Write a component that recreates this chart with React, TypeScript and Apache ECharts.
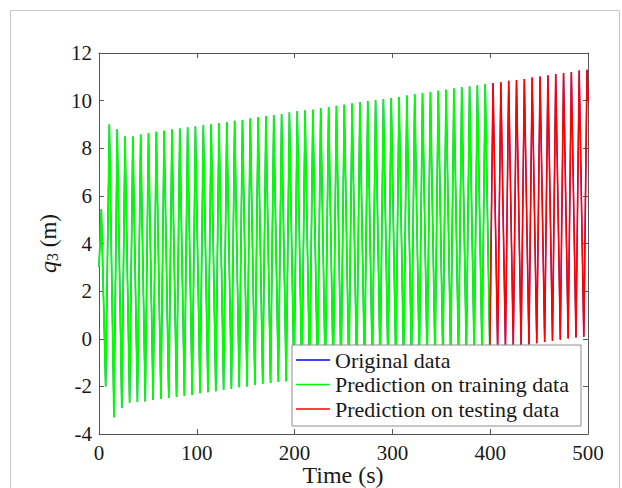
import React, { useEffect, useRef } from "react";
import * as echarts from "echarts";

// ---- data ----
const startPoint: [number, number] = [0, 3.0];
const firstPeak: [number, number] = [2.4, 5.44];
const firstTrough: [number, number] = [6.8, -2.0];
const endPoint: [number, number] = [500, 10.0];

const peakTimes = [
  10.6, 18.6, 26.6, 34.6, 42.6, 50.6, 58.6, 66.6, 74.6, 82.6,
  90.6, 98.6, 106.7, 114.7, 122.7, 130.7, 138.7, 146.7, 154.7, 162.7,
  170.7, 178.7, 186.7, 194.7, 202.7, 210.7, 218.7, 226.7, 234.8, 242.8,
  250.8, 258.8, 266.8, 274.8, 282.8, 290.8, 298.8, 306.8, 314.8, 322.8,
  330.8, 338.9, 346.9, 354.9, 362.9, 370.9, 378.9, 386.9, 394.9, 402.9,
  410.9, 418.9, 426.9, 434.9, 442.9, 451.0, 459.0, 467.0, 475.0, 483.0,
  491.0, 499.0,
];
const peakValues = [
  9.0, 8.79, 8.49, 8.49, 8.58, 8.63, 8.69, 8.73, 8.79, 8.83,
  8.87, 8.91, 8.97, 9.01, 9.05, 9.09, 9.15, 9.19, 9.25, 9.3,
  9.34, 9.39, 9.43, 9.5, 9.55, 9.58, 9.62, 9.68, 9.73, 9.78,
  9.83, 9.88, 9.93, 9.97, 10.02, 10.07, 10.11, 10.15, 10.21, 10.27,
  10.31, 10.35, 10.41, 10.46, 10.51, 10.56, 10.59, 10.64, 10.7, 10.74,
  10.77, 10.83, 10.87, 10.91, 10.97, 11.01, 11.06, 11.12, 11.16, 11.2,
  11.26, 11.3,
];
const troughTimes = [
  15.3, 23.3, 31.3, 39.3, 47.3, 55.3, 63.3, 71.3, 79.3, 87.3,
  95.3, 103.3, 111.4, 119.4, 127.4, 135.4, 143.4, 151.4, 159.4, 167.4,
  175.4, 183.4, 191.4, 199.4, 207.4, 215.4, 223.4, 231.4, 239.5, 247.5,
  255.5, 263.5, 271.5, 279.5, 287.5, 295.5, 303.5, 311.5, 319.5, 327.5,
  335.5, 343.6, 351.6, 359.6, 367.6, 375.6, 383.6, 391.6, 399.6, 407.6,
  415.6, 423.6, 431.6, 439.6, 447.6, 455.7, 463.7, 471.7, 479.7, 487.7,
  495.7,
];
const troughValues = [
  -3.3, -2.91, -2.69, -2.66, -2.63, -2.57, -2.53, -2.48, -2.44, -2.39,
  -2.35, -2.29, -2.25, -2.2, -2.15, -2.1, -2.04, -2.0, -1.94, -1.9,
  -1.86, -1.82, -1.78, -1.73, -1.68, -1.63, -1.58, -1.54, -1.49, -1.44,
  -1.39, -1.34, -1.29, -1.24, -1.19, -1.14, -1.09, -1.04, -0.99, -0.94,
  -0.89, -0.84, -0.79, -0.74, -0.69, -0.64, -0.59, -0.54, -0.49, -0.44,
  -0.39, -0.34, -0.29, -0.24, -0.19, -0.14, -0.09, -0.04, 0.01, 0.05,
  0.08,
];
const splitTime = 399.6; // end of training / start of testing

const xTicks = { min: 0, max: 500, interval: 100 };
const yTicks = { min: -4, max: 12, interval: 2 };
const xAxisTitle = "Time (s)";

const seriesNames = [
  "Original data",
  "Prediction on training data",
  "Prediction on testing data",
];
const seriesColors = ["#0000ff", "#00ff00", "#ff0000"];

// ---- build the full signal from the read extrema ----
function buildSignal(): [number, number][] {
  const pts: [number, number][] = [startPoint, firstPeak, firstTrough];
  for (let k = 0; k < peakTimes.length; k++) {
    pts.push([peakTimes[k], peakValues[k]]);
    if (k < troughTimes.length) pts.push([troughTimes[k], troughValues[k]]);
  }
  pts.push(endPoint);
  return pts;
}

const FONT = "'Liberation Serif', 'DejaVu Serif', serif";
const AXIS_COLOR = "#555555";
const TEXT_COLOR = "#1a1a1a";

export default function App() {
  const ref = useRef<HTMLDivElement>(null);
  useEffect(() => {
    if (!ref.current) return;
    const chart = echarts.init(ref.current, undefined, { renderer: "svg" });
    const all = buildSignal();
    const train = all.filter((p) => p[0] <= splitTime);
    const test = all.filter((p) => p[0] >= splitTime);

    const axisCommon = {
      axisLine: { show: true, onZero: false, lineStyle: { color: AXIS_COLOR, width: 1 } },
      axisTick: { show: true, inside: true, length: 5, lineStyle: { color: AXIS_COLOR } },
      splitLine: { show: false },
    };

    chart.setOption({
      animation: false,
      backgroundColor: "#ffffff",
      grid: {
        left: 99,
        top: 53,
        width: 489,
        height: 381,
        containLabel: false,
        outerBoundsMode: "none",
      },
      xAxis: [
        {
          type: "value",
          ...xTicks,
          ...axisCommon,
          position: "bottom",
          axisLabel: { color: TEXT_COLOR, fontFamily: FONT, fontSize: 21, margin: 8 },
        },
        {
          type: "value",
          ...xTicks,
          ...axisCommon,
          position: "top",
          axisLabel: { show: false },
        },
      ],
      yAxis: [
        {
          type: "value",
          ...yTicks,
          ...axisCommon,
          position: "left",
          axisLabel: { color: TEXT_COLOR, fontFamily: FONT, fontSize: 21, margin: 7 },
          name: "{q|q}{s|3} (m)",
          nameLocation: "middle",
          nameGap: 29,
          nameRotate: 90,
          nameTextStyle: {
            color: TEXT_COLOR,
            fontFamily: FONT,
            fontSize: 23,
            rich: {
              q: { fontFamily: FONT, fontSize: 24, fontStyle: "italic", color: TEXT_COLOR },
              s: { fontFamily: FONT, fontSize: 16, color: TEXT_COLOR, verticalAlign: "bottom", padding: [8, 0, 0, 0] },
            },
          },
        },
        {
          type: "value",
          ...yTicks,
          ...axisCommon,
          position: "right",
          axisLabel: { show: false },
        },
      ],
      legend: {
        orient: "vertical",
        left: 292,
        top: 345,
        data: seriesNames,
        icon: "rect",
        backgroundColor: "#ffffff",
        borderColor: "#8c8c8c",
        borderWidth: 1,
        borderRadius: 0,
        padding: [4, 12, 6, 4],
        itemGap: 2.5,
        itemWidth: 34,
        itemHeight: 1.4,
        textStyle: { color: TEXT_COLOR, fontFamily: FONT, fontSize: 22, lineHeight: 22 },
      },
      graphic: [
        {
          type: "rect",
          shape: { x: 10.5, y: 10.5, width: 609, height: 500 },
          style: { fill: "none", stroke: "#c8c8c8", lineWidth: 1 },
          silent: true,
        },
        {
          type: "text",
          x: 343,
          y: 475,
          style: {
            text: xAxisTitle,
            fill: TEXT_COLOR,
            font: `24px ${FONT}`,
            textAlign: "center",
            textVerticalAlign: "middle",
          },
          silent: true,
        },
      ],
      series: [
        {
          name: seriesNames[0],
          type: "line",
          data: all,
          symbol: "none",
          color: seriesColors[0],
          lineStyle: { color: seriesColors[0], width: 1.2 },
          z: 1,
        },
        {
          name: seriesNames[1],
          type: "line",
          data: train,
          symbol: "none",
          color: seriesColors[1],
          lineStyle: { color: seriesColors[1], width: 1.8 },
          z: 2,
        },
        {
          name: seriesNames[2],
          type: "line",
          data: test,
          symbol: "none",
          color: seriesColors[2],
          lineStyle: { color: seriesColors[2], width: 1.6 },
          z: 3,
        },
      ],
    });
    return () => chart.dispose();
  }, []);
  return (
    <div
      ref={ref}
      style={{ position: "fixed", left: 0, top: 0, width: 622, height: 488 }}
    />
  );
}
